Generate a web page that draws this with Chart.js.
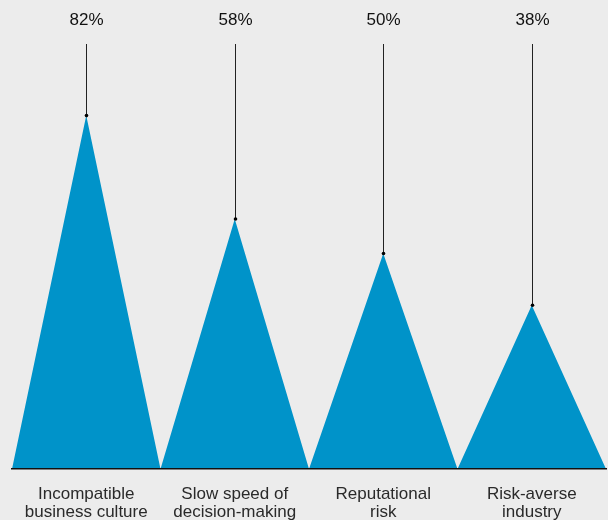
<!DOCTYPE html>
<html>
<head>
<meta charset="utf-8">
<script src="https://cdn.jsdelivr.net/npm/chart.js@4/dist/chart.umd.min.js"></script>
<style>
  html, body { margin: 0; padding: 0; background: #ececec; }
  #wrap { width: 608px; height: 520px; position: relative; }
</style>
</head>
<body>
<div id="wrap"><canvas id="c" width="608" height="520"></canvas></div>
<script>
// Barriers, share of respondents (%)
const categories = [
  ['Incompatible', 'business culture'],
  ['Slow speed of', 'decision-making'],
  ['Reputational', 'risk'],
  ['Risk-averse', 'industry']
];
const values = [82, 58, 50, 38];
const valueLabels = ['82%', '58%', '50%', '38%'];

// Each category becomes a triangle: base corners on 0, apex at its value
const points = [];
values.forEach((v, i) => {
  points.push({ x: 2 * i, y: 0 });
  points.push({ x: 2 * i + 1, y: v });
});
points.push({ x: 2 * values.length, y: 0 });

const FONT = '"Liberation Sans", Arial, sans-serif';

// Leader lines from the percentage labels down to each apex
const leaders = {
  id: 'leaders',
  afterDatasetsDraw(chart) {
    const { ctx, scales: { x, y } } = chart;
    ctx.save();
    values.forEach((v, i) => {
      const px = Math.round(x.getPixelForValue(2 * i + 1)) + 0.5;
      const py = y.getPixelForValue(v);
      ctx.strokeStyle = '#222';
      ctx.lineWidth = 1;
      ctx.beginPath();
      ctx.moveTo(px, 44);
      ctx.lineTo(px, py);
      ctx.stroke();
      ctx.fillStyle = '#000';
      ctx.beginPath();
      ctx.arc(px, py, 1.8, 0, Math.PI * 2);
      ctx.fill();
      ctx.fillStyle = '#111';
      ctx.font = '17px ' + FONT;
      ctx.textAlign = 'center';
      ctx.textBaseline = 'middle';
      ctx.fillText(valueLabels[i], px, 20);
    });
    ctx.restore();
  }
};

new Chart(document.getElementById('c'), {
  type: 'line',
  data: {
    datasets: [{
      data: points,
      fill: 'origin',
      backgroundColor: '#0093c9',
      borderWidth: 0,
      pointRadius: 0,
      pointHoverRadius: 0,
      tension: 0
    }]
  },
  options: {
    responsive: false,
    animation: false,
    events: [],
    layout: { padding: { left: 12, right: 2, top: 38, bottom: 0 } },
    plugins: { legend: { display: false }, tooltip: { enabled: false } },
    scales: {
      x: {
        type: 'linear',
        min: 0,
        max: 2 * values.length,
        grid: { display: false },
        border: { display: true, color: '#111', width: 1.5, z: 1 },
        afterBuildTicks(scale) {
          scale.ticks = categories.map((c, i) => ({ value: 2 * i + 1 }));
        },
        afterFit(scale) { scale.height = 51; },
        ticks: {
          autoSkip: false,
          maxRotation: 0,
          padding: 8,
          color: '#2a2a2a',
          font: { family: FONT, size: 17, lineHeight: 1.06 },
          callback(val, idx) { return categories[idx]; }
        }
      },
      y: {
        display: false,
        min: 0,
        max: 100
      }
    }
  },
  plugins: [leaders]
});
</script>
</body>
</html>
